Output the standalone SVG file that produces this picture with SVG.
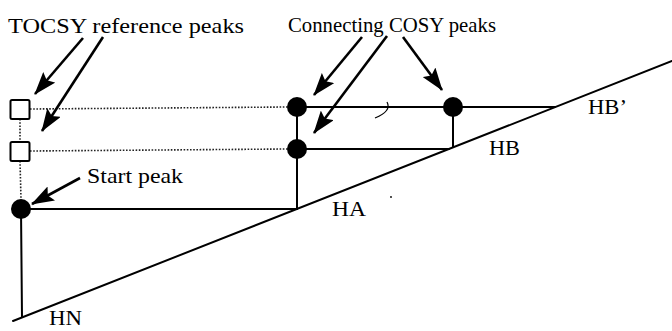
<svg xmlns="http://www.w3.org/2000/svg" width="672" height="331" viewBox="0 0 672 331">
  <style>
    .lbl { font-family: "Liberation Serif", "Times New Roman", serif; font-size: 22px; fill: #000; }
    .solid { stroke: #000; stroke-width: 2; fill: none; stroke-linecap: round; }
    .dot { stroke: #222; stroke-width: 1.6; stroke-dasharray: 1.6 1.6; fill: none; }
    .arrow { stroke: #000; stroke-width: 2.6; fill: none; marker-end: url(#ah); }
    .peak { fill: #000; }
    .ref { fill: #fff; stroke: #000; stroke-width: 2; }
  </style>
  <defs>
    <marker id="ah" markerUnits="userSpaceOnUse" markerWidth="24" markerHeight="16" refX="22" refY="8" orient="auto">
      <path d="M0,0 L23,8 L0,16 L4,8 Z" fill="#000"/>
    </marker>
  </defs>
  <rect width="672" height="331" fill="#fff"/>

  <g id="connectors">
    <!-- diagonal axis -->
    <line class="solid" x1="13" y1="321" x2="672" y2="61"/>
    <!-- start peak vertical to HN -->
    <line class="solid" x1="21" y1="209" x2="22" y2="317"/>
    <!-- start peak horizontal to HA -->
    <line class="solid" x1="21" y1="209" x2="297" y2="209"/>
    <!-- HA vertical -->
    <line class="solid" x1="297" y1="107" x2="297" y2="209"/>
    <!-- HB horizontal -->
    <line class="solid" x1="297" y1="149" x2="449" y2="149"/>
    <!-- HB' horizontal -->
    <line class="solid" x1="297" y1="107" x2="555" y2="107"/>
    <!-- HB vertical -->
    <line class="solid" x1="453" y1="107" x2="453" y2="147"/>
    <!-- dotted reference lines -->
    <line class="dot" x1="30" y1="109" x2="287" y2="107"/>
    <line class="dot" x1="30" y1="151" x2="287" y2="149"/>
    <line class="dot" x1="20" y1="119" x2="20" y2="142"/>
    <line class="dot" x1="20" y1="161" x2="21" y2="199"/>
    <!-- small marks -->
    <path d="M375,118 Q392,111 387,102" stroke="#000" stroke-width="1.2" fill="none"/>
    <circle cx="391" cy="197" r="0.9" fill="#000"/>
    <!-- pointer arrows -->
    <line class="arrow" x1="83" y1="38" x2="35" y2="94"/>
    <line class="arrow" x1="103" y1="37" x2="42" y2="131"/>
    <line class="arrow" x1="80" y1="178" x2="32" y2="204"/>
    <line class="arrow" x1="362" y1="37" x2="314" y2="95"/>
    <line class="arrow" x1="387" y1="36" x2="314" y2="133"/>
    <line class="arrow" x1="403" y1="37" x2="442" y2="90"/>
  </g>

  <g id="tocsy-ref-1"><rect class="ref" x="10.5" y="100" width="19" height="19" rx="1.5"/></g>
  <g id="tocsy-ref-2"><rect class="ref" x="10.5" y="142" width="19" height="19" rx="1.5"/></g>
  <g id="start-peak"><circle class="peak" cx="21" cy="209" r="10"/></g>
  <g id="cosy-1"><circle class="peak" cx="297" cy="107" r="10"/></g>
  <g id="cosy-2"><circle class="peak" cx="297" cy="149" r="10"/></g>
  <g id="cosy-3"><circle class="peak" cx="453" cy="107" r="10"/></g>

  <g id="labels">
    <text class="lbl" x="8" y="33" textLength="236" lengthAdjust="spacingAndGlyphs">TOCSY reference peaks</text>
    <text class="lbl" x="288" y="32" textLength="208" lengthAdjust="spacingAndGlyphs">Connecting COSY peaks</text>
    <text class="lbl" x="87" y="183" textLength="96" lengthAdjust="spacingAndGlyphs">Start peak</text>
    <text class="lbl" x="332" y="216" textLength="34" lengthAdjust="spacingAndGlyphs">HA</text>
    <text class="lbl" x="489" y="155" textLength="31" lengthAdjust="spacingAndGlyphs">HB</text>
    <text class="lbl" x="588" y="114" textLength="39" lengthAdjust="spacingAndGlyphs">HB’</text>
    <text class="lbl" x="49" y="325" font-size="19" textLength="33" lengthAdjust="spacingAndGlyphs">HN</text>
  </g>
</svg>
